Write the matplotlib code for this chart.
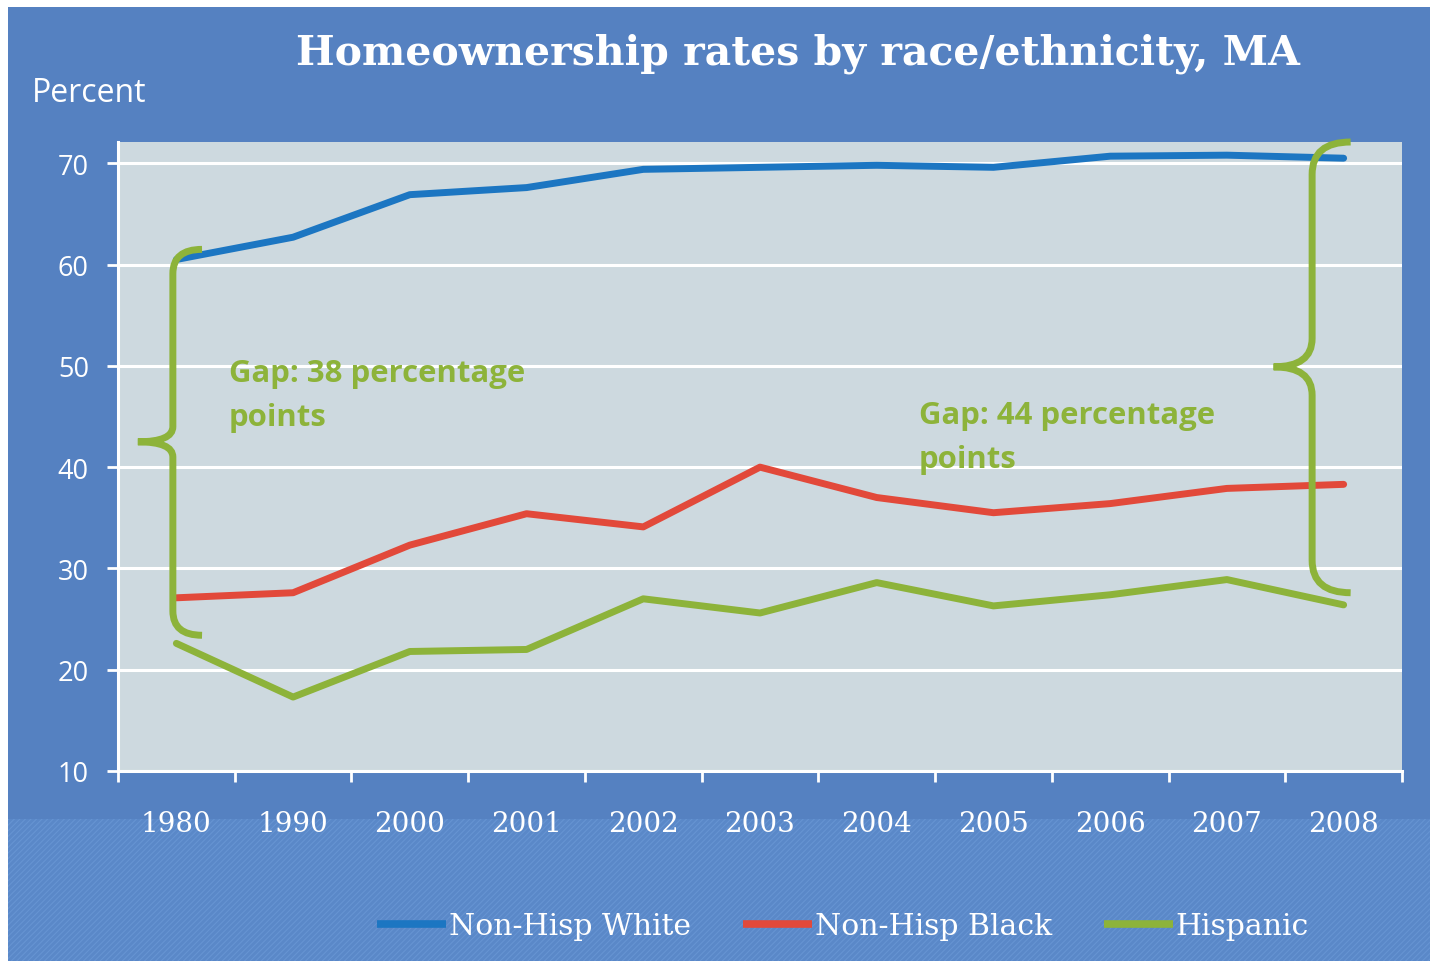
import matplotlib.pyplot as plt
from matplotlib.patches import Rectangle, PathPatch
from matplotlib.path import Path

# 数据
years = ['1980', '1990', '2000', '2001', '2002', '2003', '2004', '2005', '2006', '2007', '2008']
white = [60.5, 62.7, 66.9, 67.6, 69.4, 69.6, 69.8, 69.6, 70.7, 70.8, 70.5]
black = [27.1, 27.6, 32.3, 35.4, 34.1, 40.0, 37.0, 35.5, 36.4, 37.9, 38.3]
hispanic = [22.6, 17.3, 21.8, 22.0, 27.0, 25.6, 28.6, 26.3, 27.4, 28.9, 26.4]
series_names = ['Non-Hisp White', 'Non-Hisp Black', 'Hispanic']
yticks = [10, 20, 30, 40, 50, 60, 70]

BG = '#5581c1'
PLOT_BG = '#cdd9df'
BLUE = '#1c76c2'
RED = '#e2493a'
GREEN = '#8db33a'


def brace(x_tip, x_spine, x_end, y_top, y_mid, y_bot, r_end, r_mid):
    # 画一个左花括号 "{"
    verts = [
        (x_end, y_top),
        (x_spine, y_top), (x_spine, y_top - r_end),
        (x_spine, y_mid + r_mid),
        (x_spine, y_mid), (x_tip, y_mid),
        (x_spine, y_mid), (x_spine, y_mid - r_mid),
        (x_spine, y_bot + r_end),
        (x_spine, y_bot), (x_end, y_bot),
    ]
    codes = [Path.MOVETO,
             Path.CURVE3, Path.CURVE3,
             Path.LINETO,
             Path.CURVE3, Path.CURVE3,
             Path.CURVE3, Path.CURVE3,
             Path.LINETO,
             Path.CURVE3, Path.CURVE3]
    return PathPatch(Path(verts, codes), facecolor='none', edgecolor=GREEN,
                     lw=5, capstyle='butt', clip_on=False, zorder=5)


def main():
    fig = plt.figure(figsize=(14.3, 9.62), dpi=100, facecolor='white')

    # 背景
    fig.patches.append(Rectangle((8 / 1430, 0), 1, 1 - 8 / 962, transform=fig.transFigure,
                                 facecolor=BG, edgecolor='none', zorder=-3))
    plt.rcParams['hatch.linewidth'] = 0.8
    fig.patches.append(Rectangle((8 / 1430, 0), 1, 142 / 962, transform=fig.transFigure,
                                 facecolor='#5a88c8', edgecolor='#6694d2', hatch='//////',
                                 lw=0, zorder=-2))

    ax = fig.add_axes([118 / 1430, 190 / 962, 1284 / 1430, 629 / 962])
    ax.set_facecolor(PLOT_BG)

    x = list(range(len(years)))
    lines = []
    for vals, color, name in zip([white, black, hispanic], [BLUE, RED, GREEN], series_names):
        ln, = ax.plot(x, vals, color=color, lw=5, solid_joinstyle='round',
                      solid_capstyle='round', label=name, zorder=4)
        lines.append(ln)

    ax.set_xlim(-0.5, len(years) - 0.5)
    ax.set_ylim(10, 72.1)
    ax.set_yticks(yticks)
    ax.set_yticklabels([str(v) for v in yticks], fontsize=19.5, color='white', family='Open Sans')
    ax.yaxis.grid(True, color='white', lw=2.2)
    ax.set_axisbelow(True)

    ax.set_xticks([i - 0.5 for i in range(len(years) + 1)])
    ax.set_xticklabels([])
    ax.set_xticks(x, minor=True)
    ax.set_xticklabels(years, minor=True, fontsize=20, color='white', family='DejaVu Serif')
    ax.tick_params(axis='x', which='minor', length=0, pad=28)
    ax.tick_params(axis='x', which='major', length=8, width=2, color='white', direction='out')
    ax.tick_params(axis='y', length=8, width=2, color='white', direction='out', pad=13)

    for s in ['top', 'right']:
        ax.spines[s].set_visible(False)
    for s in ['left', 'bottom']:
        ax.spines[s].set_color('white')
        ax.spines[s].set_linewidth(2.2)

    # 花括号与注释
    ax.add_patch(brace(-0.33, -0.03, 0.22, 61.5, 42.5, 23.4, 2.4, 1.5))
    ax.add_patch(brace(9.40, 9.73, 10.06, 72.1, 49.9, 27.6, 3.2, 2.8))
    ax.text(0.45, 50.8, 'Gap: 38 percentage\npoints', color=GREEN, fontsize=22.4,
            fontweight='bold', family='Open Sans', va='top', linespacing=1.6)
    ax.text(6.36, 46.6, 'Gap: 44 percentage\npoints', color=GREEN, fontsize=22.4,
            fontweight='bold', family='Open Sans', va='top', linespacing=1.6)

    fig.text(798 / 1430, 1 - 54 / 962, 'Homeownership rates by race/ethnicity, MA',
             color='white', fontsize=29.5, fontweight='bold', family='DejaVu Serif',
             ha='center', va='center')
    fig.text(32 / 1430, 1 - 93 / 962, 'Percent', color='white', fontsize=23,
             family='Open Sans', ha='left', va='center')

    leg = fig.legend(handles=lines, loc='center', bbox_to_anchor=(843 / 1430, 1 - 927 / 962),
                     ncol=3, frameon=False, handlelength=2.3, handletextpad=0.1,
                     columnspacing=1.75, prop={'family': 'DejaVu Serif', 'size': 21.5})
    for t in leg.get_texts():
        t.set_color('white')
    for h in leg.legend_handles:
        h.set_linewidth(5.5)
        h.set_solid_capstyle('butt')

    fig.savefig('out.png', dpi=100, facecolor=fig.get_facecolor())


if __name__ == "__main__":
    main()
